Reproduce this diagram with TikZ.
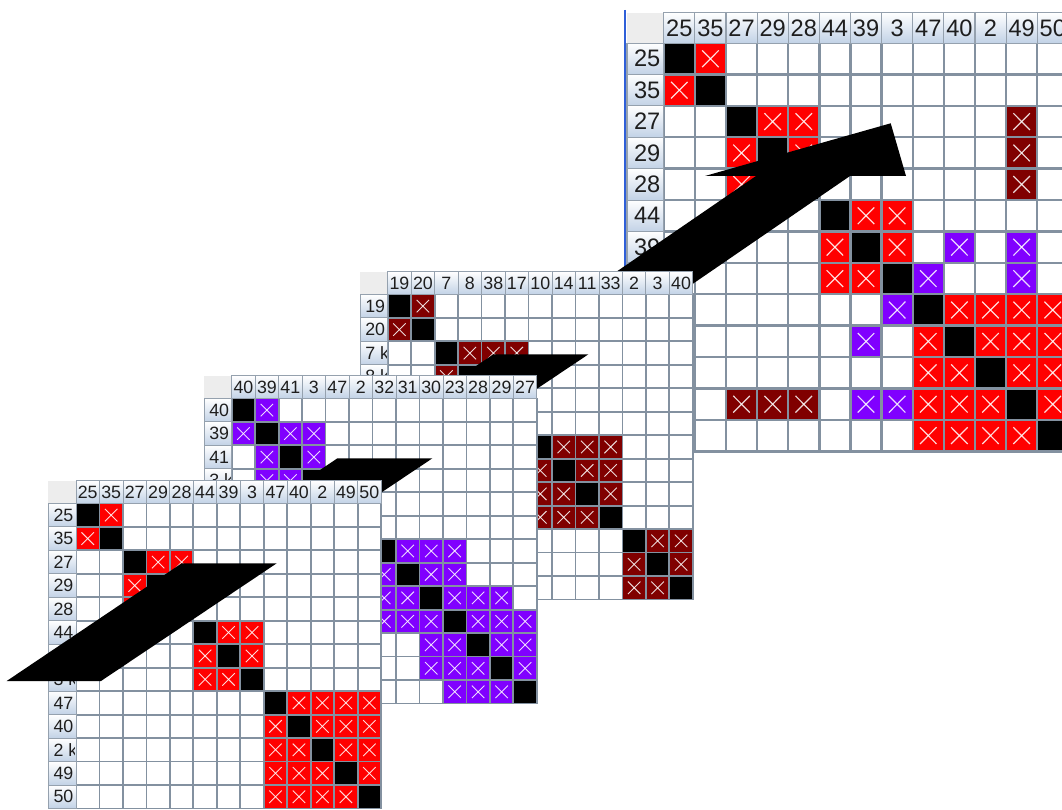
\documentclass[tikz,border=0pt]{standalone}
\usepackage{fontspec}
\setmainfont{Liberation Sans}
\definecolor{gline}{HTML}{8391A0}
\definecolor{hdrbot}{HTML}{C2D2E6}
\definecolor{hdrline}{HTML}{95A1AE}
\definecolor{cornerc}{HTML}{EDEDED}
\definecolor{cred}{HTML}{FF0000}
\definecolor{cmar}{HTML}{800000}
\definecolor{cpur}{HTML}{8000FF}
\definecolor{txt}{HTML}{1E1E1E}
\definecolor{winblue}{HTML}{2F5FD8}
\def\gR{27.7}
\def\gH{22.7}
\def\gC{23.47}
\def\lwg{1.8pt}
\def\lwx{0.9pt}
\def\lwh{0.8pt}
\newcommand\klab[1]{\rlap{#1 k}\phantom{00}}
\newcommand\xc[3]{%
  \fill[#3] ({\gR+#2*\gC},{\gH+#1*\gC}) rectangle ++(\gC,\gC);
  \draw[xmk] ({\gR+#2*\gC+5.5},{\gH+#1*\gC+5.5}) -- ++({\gC-11},{\gC-11});
  \draw[xmk] ({\gR+(#2+1)*\gC-5.5},{\gH+#1*\gC+5.5}) -- ++({11-\gC},{\gC-11});}
\newcommand\blk[2]{\foreach \aa in {#1}{\foreach \bb in {#1}{\ifnum\aa=\bb\relax\else\xc{\aa}{\bb}{#2}\fi}}}
\newcommand\symc[2]{\foreach \aa/\bb in {#1}{\xc{\aa}{\bb}{#2}\xc{\bb}{\aa}{#2}}}
\newcommand\drawgrid[5]{%
\begin{scope}[#1, transform shape]
  \fill[white] (0,0) rectangle ({\gR+13*\gC},{\gH+13*\gC});
  #4
  \foreach \ii in {0,...,12} \fill[black] ({\gR+\ii*\gC},{\gH+\ii*\gC}) rectangle ++(\gC,\gC);
  \foreach \kk in {0,...,13} {
    \draw[gridl] ({\gR+\kk*\gC},\gH) -- ++(0,{13*\gC});
    \draw[gridl] (\gR,{\gH+\kk*\gC}) -- ++({13*\gC},0);
  }
  \fill[cornerc] (0,0) rectangle (\gR,\gH);
  \foreach \lab [count=\kk from 0] in {#2} {
    \shade[hdr] ({\gR+\kk*\gC},0) rectangle ++(\gC,\gH);
    \node[lab] at ({\gR+(\kk+0.5)*\gC},{\gH/2}) {\lab};
  }
  \foreach \kk in {0,...,12} \shade[hdr] (0,{\gH+\kk*\gC}) rectangle ++(\gR,\gC);
  \begin{scope}
    \clip (0,\gH) rectangle ({\gR-1.2},{\gH+13*\gC});
    \foreach \lab [count=\kk from 0] in {#3} {
      \node[lab, anchor=east] at ({\gR-2.4},{\gH+(\kk+0.5)*\gC}) {\lab};
    }
  \end{scope}
  #5
\end{scope}}
\begin{document}
\begin{tikzpicture}[x=1pt,y=-1pt,
  gridl/.style={draw=gline, line width=\lwg},
  xmk/.style={draw=white, draw opacity=0.85, line width=\lwx},
  lab/.style={font=\fontsize{17.8}{17.8}\selectfont, text=txt, inner sep=0pt},
  hdr/.style={top color=white, bottom color=hdrbot, draw=hdrline, line width=\lwh},
  piece/.style={fill=black}]
\path[use as bounding box] (0,0) rectangle (1062,810);
\clip (0,0) rectangle (1062,810);
\fill[white] (0,0) rectangle (1062,810);

% ---------- grid 4 (back, enlarged) ----------
\def\lwg{2.4pt}\def\lwx{1.2pt}\def\lwh{1.1pt}
\draw[winblue, line width=2pt] (625,10) -- (625,272);
\drawgrid{shift={(627,12.7)}, xscale=1.326, yscale=1.338}
  {25,35,27,29,28,44,39,3,47,40,2,49,50}
  {25,35,27,29,28,44,39,\klab3,47,40,\klab2,49,50}
  {\blk{0,1}{cred}\blk{2,3,4}{cred}\blk{5,6,7}{cred}\blk{8,9,10,11,12}{cred}%
   \symc{2/11,3/11,4/11}{cmar}\symc{6/9,6/11,7/8,7/11}{cpur}}
  {}
\fill[piece] (575.2,300) -- (669.2,300) -- (850,176) -- (906,176) -- (890.7,123.3)
  -- (705,176) -- (756,176) -- cycle;

% ---------- grid 3 ----------
\def\lwg{1.8pt}\def\lwx{0.9pt}\def\lwh{0.8pt}
\drawgrid{shift={(360,271.7)}}
  {19,20,7,8,38,17,10,14,11,33,2,3,40}
  {19,20,\klab7,\klab8,38,17,10,14,11,33,\klab2,\klab3,40}
  {\blk{0,1}{cmar}\blk{2,3,4,5}{cmar}\blk{6,7,8,9}{cmar}\blk{10,11,12}{cmar}}
  {\fill[piece] (-41.6,200.3) -- (52.7,200.3) -- (228.4,82.6) -- (133.4,82.6) -- cycle;}

% ---------- grid 2 ----------
\drawgrid{shift={(204,375.7)}}
  {40,39,41,3,47,2,32,31,30,23,28,29,27}
  {40,39,41,\klab3,47,\klab2,32,31,30,23,28,29,27}
  {\symc{0/1,1/2,1/3,2/3}{cpur}\blk{6,7,8,9}{cpur}%
   \symc{8/10,8/11,9/10,9/11,9/12,10/11,10/12,11/12}{cpur}}
  {\fill[piece] (-41.6,200.3) -- (52.7,200.3) -- (228.4,82.6) -- (133.4,82.6) -- cycle;}

% ---------- grid 1 (front) ----------
\drawgrid{shift={(48.3,480.7)}}
  {25,35,27,29,28,44,39,3,47,40,2,49,50}
  {25,35,27,29,28,44,39,\klab3,47,40,\klab2,49,50}
  {\blk{0,1}{cred}\blk{2,3,4}{cred}\blk{5,6,7}{cred}\blk{8,9,10,11,12}{cred}}
  {\fill[piece] (-41.6,200.3) -- (52.7,200.3) -- (228.4,82.6) -- (133.4,82.6) -- cycle;}
\end{tikzpicture}
\end{document}
